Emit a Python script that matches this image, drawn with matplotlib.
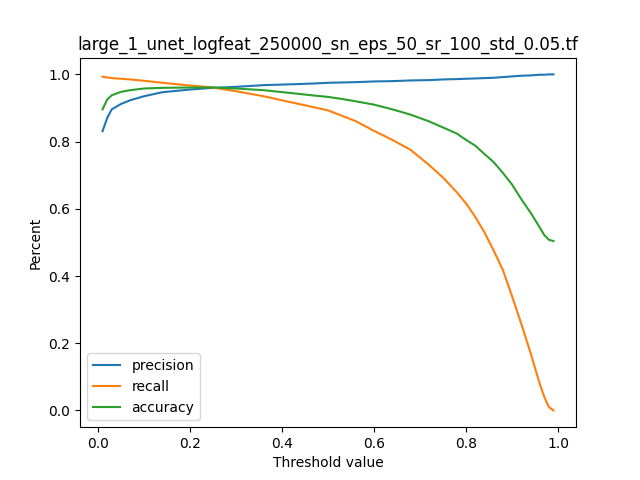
import matplotlib
matplotlib.use("Agg")
import matplotlib.pyplot as plt

# Thresholds
thresholds = [0.01, 0.02, 0.03, 0.05, 0.07, 0.10, 0.14, 0.20, 0.25, 0.30,
              0.36, 0.43, 0.47, 0.50, 0.53, 0.56, 0.60, 0.64, 0.68, 0.72,
              0.75, 0.78, 0.80, 0.82, 0.84, 0.86, 0.88, 0.90, 0.92, 0.94,
              0.96, 0.97, 0.98, 0.99]

precision = [0.831, 0.870, 0.896, 0.912, 0.923, 0.935, 0.947, 0.955, 0.960, 0.963,
             0.968, 0.971, 0.973, 0.975, 0.976, 0.977, 0.979, 0.980, 0.982, 0.983,
             0.985, 0.986, 0.987, 0.988, 0.989, 0.990, 0.992, 0.994, 0.996, 0.997,
             0.999, 0.999, 1.000, 1.000]

recall = [0.993, 0.991, 0.989, 0.987, 0.985, 0.981, 0.975, 0.967, 0.961, 0.950,
          0.935, 0.914, 0.902, 0.893, 0.877, 0.861, 0.832, 0.805, 0.775, 0.730,
          0.693, 0.649, 0.616, 0.576, 0.530, 0.476, 0.418, 0.340, 0.258, 0.172,
          0.080, 0.040, 0.010, 0.000]

accuracy = [0.896, 0.925, 0.938, 0.948, 0.953, 0.958, 0.960, 0.961, 0.961, 0.958,
            0.953, 0.943, 0.937, 0.933, 0.927, 0.920, 0.910, 0.896, 0.880, 0.860,
            0.842, 0.824, 0.805, 0.788, 0.763, 0.739, 0.707, 0.672, 0.629, 0.589,
            0.545, 0.522, 0.508, 0.504]

plt.figure(figsize=(6.4, 4.8), dpi=100)
plt.plot(thresholds, precision, label='precision')
plt.plot(thresholds, recall, label='recall')
plt.plot(thresholds, accuracy, label='accuracy')
plt.legend(loc='lower left')
plt.title('large_1_unet_logfeat_250000_sn_eps_50_sr_100_std_0.05.tf')
plt.xlabel('Threshold value')
plt.ylabel('Percent')
plt.savefig('out.png')
